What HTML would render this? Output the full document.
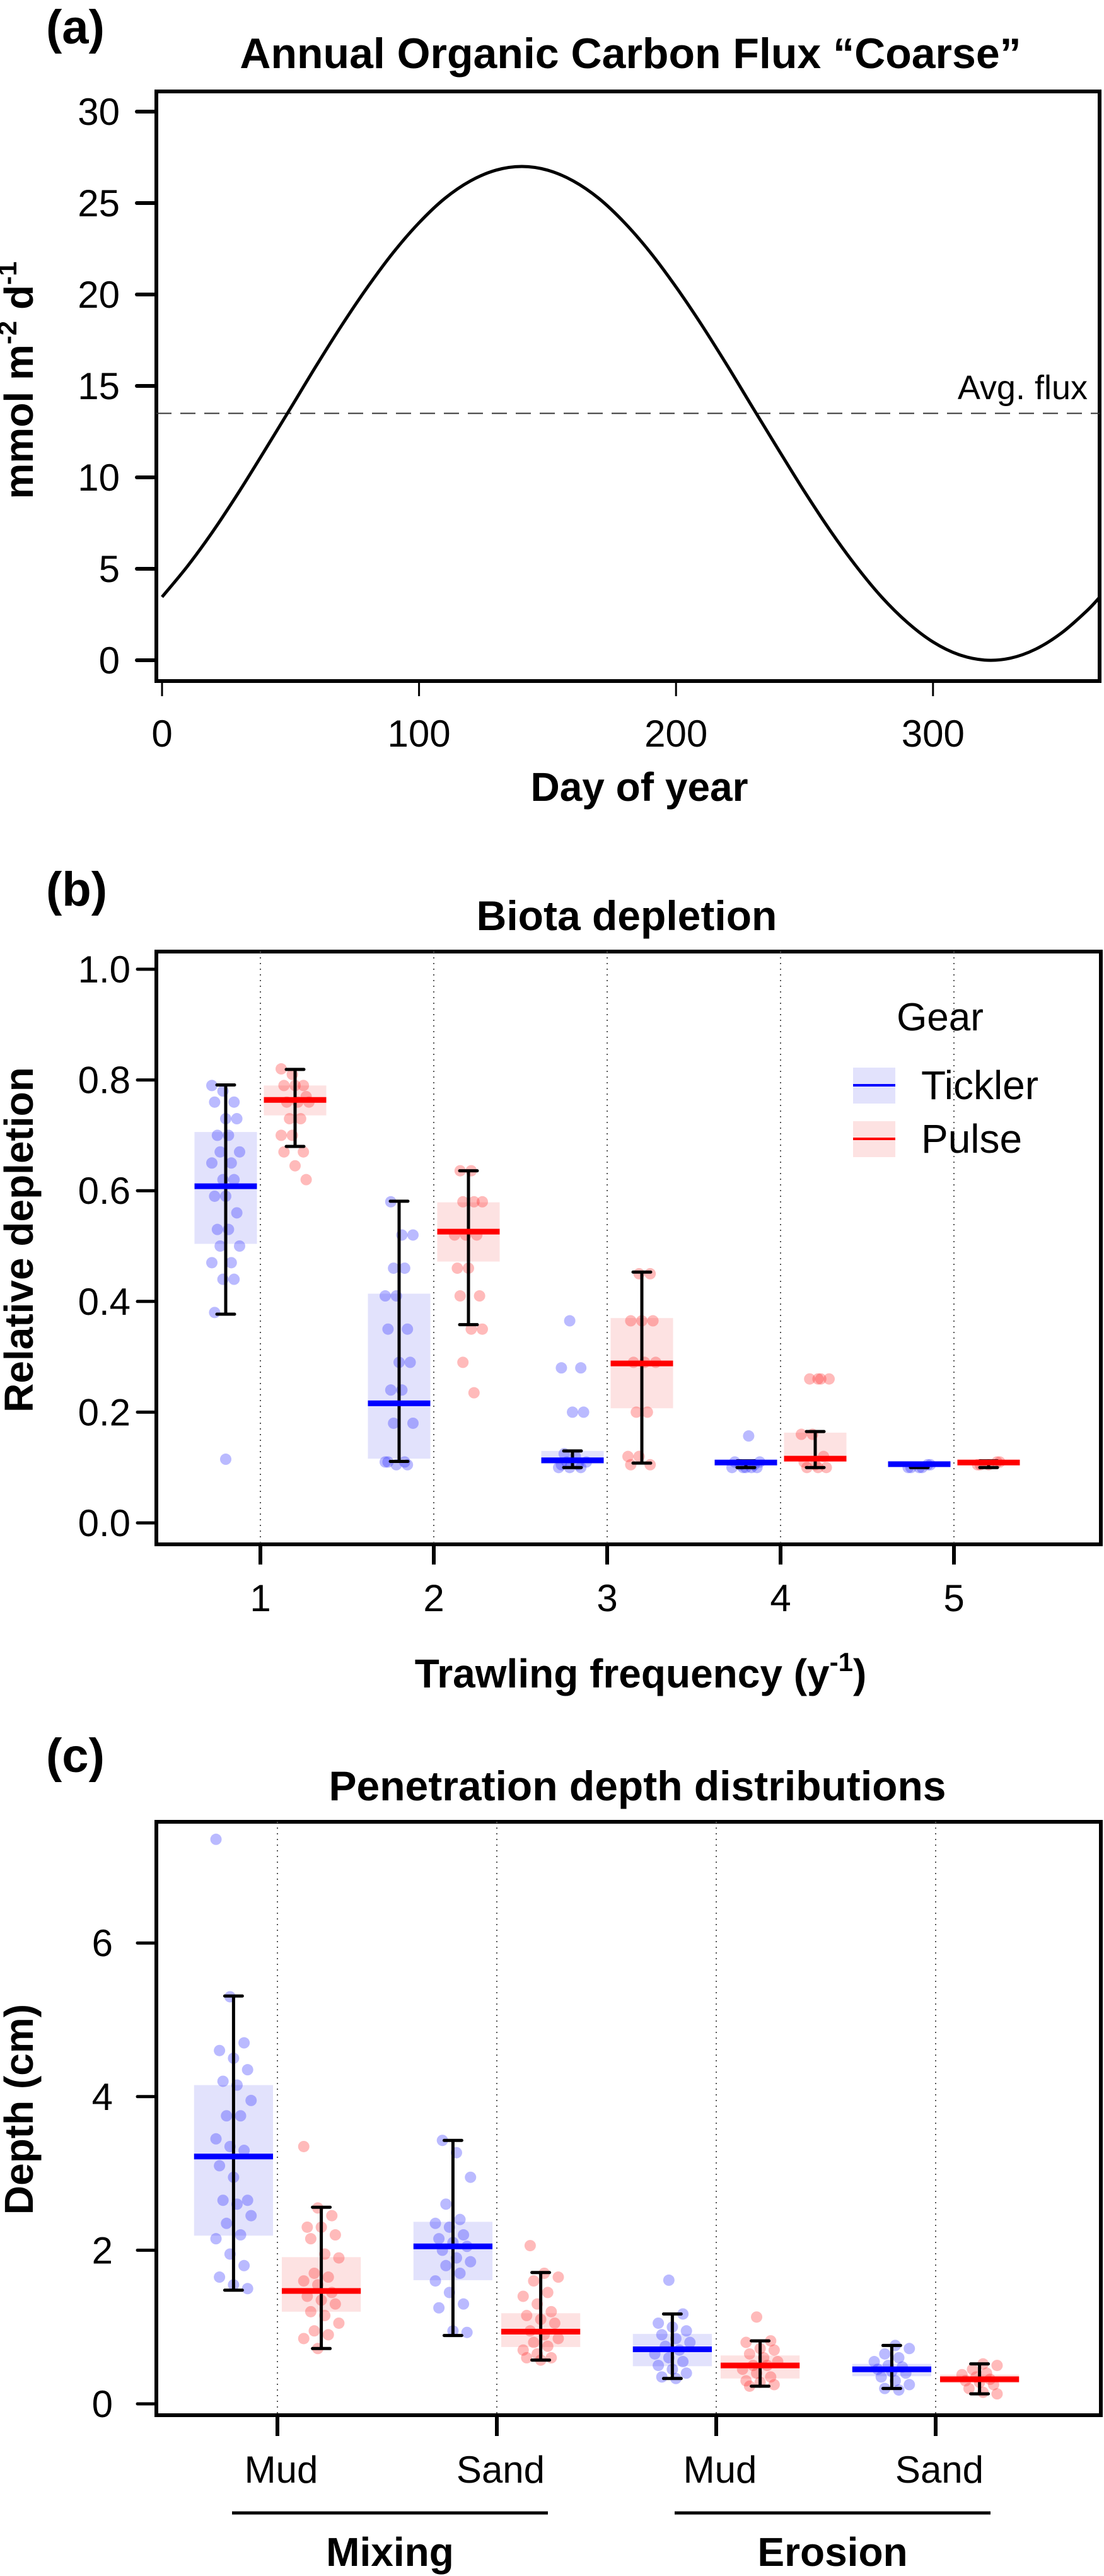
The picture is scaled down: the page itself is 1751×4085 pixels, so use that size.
<!DOCTYPE html>
<html><head><meta charset="utf-8"><style>
html,body{margin:0;padding:0;background:#fff;}
svg{display:block;font-family:"Liberation Sans",Arial,sans-serif;}
</style></head><body>
<svg id="fig" width="1751" height="4085" viewBox="0 0 1751 4085" xmlns="http://www.w3.org/2000/svg">
<g id="pa"></g>
<g id="pb"></g>
<g id="pc"></g>
</svg>
<script>
// ---------- Panel (a) data ----------
const fluxDays = [0,10,20,30,40,50,60,70,80,90,100,110,120,130,140,150,160,170,180,190,200,210,220,230,240,250,260,270,280,290,300,310,320,330,340,350,360,365];
const fluxValues = [3.46,5.16,7.09,9.22,11.48,13.78,16.10,18.33,20.41,22.30,23.92,25.25,26.21,26.80,27.0,26.80,26.21,25.25,23.92,22.30,20.41,18.33,16.10,13.78,11.48,9.22,7.09,5.16,3.46,2.07,1.00,0.31,0.01,0.11,0.61,1.49,2.72,3.47];
const avgFlux = [13.5];
const aYTicks = [0,5,10,15,20,25,30];
const aXTicks = [0,100,200,300];

// ---------- Panel (b) data ----------
const bCategories = ["1","2","3","4","5"];
const bTicklerStats = [[0.377,0.504,0.608,0.706,0.791],[0.111,0.116,0.216,0.414,0.581],[0.10,0.106,0.113,0.130,0.130],[0.10,0.105,0.109,0.112,0.112],[0.10,0.103,0.106,0.108,0.108]];
const bPulseStats = [[0.68,0.736,0.764,0.79,0.819],[0.358,0.472,0.526,0.579,0.636],[0.108,0.207,0.288,0.37,0.453],[0.10,0.114,0.116,0.163,0.165],[0.10,0.106,0.109,0.112,0.112]];
const bTicklerPoints = [
 [0.79,0.78,0.76,0.76,0.73,0.73,0.70,0.70,0.67,0.67,0.65,0.65,0.62,0.62,0.59,0.59,0.56,0.53,0.53,0.50,0.50,0.47,0.47,0.44,0.44,0.38,0.115],
 [0.58,0.52,0.52,0.46,0.46,0.41,0.41,0.35,0.35,0.29,0.29,0.24,0.24,0.18,0.18,0.11,0.11,0.105,0.105,0.11],
 [0.365,0.28,0.28,0.20,0.20,0.125,0.12,0.11,0.11,0.105,0.10,0.10,0.10,0.105],
 [0.157,0.11,0.105,0.10,0.10,0.10,0.105,0.11,0.10,0.10],
 [0.105,0.10,0.10,0.105,0.10,0.10]];
const bPulsePoints = [
 [0.82,0.81,0.79,0.79,0.79,0.77,0.76,0.76,0.76,0.73,0.73,0.70,0.70,0.67,0.67,0.645,0.62],
 [0.636,0.636,0.58,0.58,0.58,0.52,0.52,0.52,0.46,0.46,0.41,0.41,0.35,0.35,0.29,0.235],
 [0.45,0.45,0.365,0.365,0.365,0.29,0.29,0.29,0.20,0.20,0.12,0.12,0.105,0.105],
 [0.26,0.26,0.26,0.26,0.16,0.16,0.12,0.11,0.105,0.10,0.10,0.10],
 [0.11,0.105,0.105,0.11,0.105]];
const bYTicks = ["0.0","0.2","0.4","0.6","0.8","1.0"];

// ---------- Panel (c) data ----------
const cCategories = ["Mud","Sand","Mud","Sand"];
const cGroups = ["Mixing","Erosion"];
const cTicklerStats = [[1.48,2.19,3.22,4.15,5.31],[0.89,1.61,2.05,2.37,3.43],[0.33,0.49,0.71,0.91,1.17],[0.20,0.36,0.45,0.52,0.76]];
const cPulseStats = [[0.72,1.20,1.47,1.91,2.56],[0.57,0.74,0.94,1.18,1.71],[0.23,0.33,0.50,0.63,0.82],[0.13,0.27,0.32,0.38,0.52]];
const cTicklerPoints = [
 [7.35,5.3,4.7,4.6,4.5,4.35,4.2,4.15,3.95,3.75,3.75,3.45,3.35,3.3,3.1,2.95,2.65,2.65,2.6,2.45,2.35,2.2,2.15,1.95,1.8,1.65,1.55,1.5],
 [3.43,3.27,2.95,2.6,2.4,2.35,2.3,2.2,2.15,2.1,2.05,2.0,1.9,1.85,1.8,1.7,1.6,1.45,1.3,1.25,0.95,0.93],
 [1.61,1.17,1.05,1.0,0.95,0.9,0.85,0.8,0.75,0.7,0.65,0.6,0.55,0.5,0.45,0.4,0.35,0.33],
 [0.76,0.72,0.65,0.6,0.55,0.5,0.48,0.45,0.42,0.4,0.35,0.3,0.25,0.2,0.18]];
const cPulsePoints = [
 [3.35,2.55,2.45,2.3,2.3,2.2,2.15,1.95,1.9,1.7,1.65,1.6,1.55,1.45,1.4,1.35,1.3,1.2,1.15,1.05,0.95,0.9,0.85,0.72],
 [2.06,1.7,1.65,1.6,1.45,1.4,1.3,1.2,1.15,1.1,1.05,0.95,0.9,0.85,0.8,0.75,0.7,0.65,0.6,0.6,0.57],
 [1.13,0.82,0.8,0.72,0.7,0.65,0.6,0.55,0.5,0.5,0.45,0.4,0.35,0.3,0.28,0.25,0.23],
 [0.52,0.5,0.45,0.4,0.38,0.35,0.32,0.3,0.28,0.25,0.2,0.15,0.13]];
const cYTicks = [0,2,4,6];

const NS="http://www.w3.org/2000/svg";
function mk(parent,tag,attrs,text){const e=document.createElementNS(NS,tag);for(const k in attrs)e.setAttribute(k,attrs[k]);if(text!==undefined)e.textContent=text;parent.appendChild(e);return e;}

// ================= Panel A =================
(function(){
 const g=document.getElementById('pa');
 const L=248,R=1744,T=145,B=1080;
 const xs=d=>257+d*4.076, ys=v=>1047-v*29.0;
 let t=mk(g,'text',{x:73,y:69,'font-size':76,'font-weight':'bold'},'(a)');
 
 t=mk(g,'text',{x:1000,y:108,'font-size':68,'font-weight':'bold','text-anchor':'middle'},'Annual Organic Carbon Flux “Coarse”');
 
 const fr=mk(g,'rect',{x:L,y:T,width:R-L,height:B-T,fill:'none',stroke:'#000','stroke-width':6});
 
 aYTicks.forEach(v=>{
  const l=mk(g,'line',{x1:217,x2:L,y1:ys(v),y2:ys(v),stroke:'#000','stroke-width':6,'stroke-linecap':'round'});
  
  const tx=mk(g,'text',{x:190,y:ys(v)+21,'font-size':60,'text-anchor':'end'},String(v));
  
 });
 aXTicks.forEach(v=>{
  const l=mk(g,'line',{x1:xs(v),x2:xs(v),y1:B,y2:1104,stroke:'#000','stroke-width':3});
  
  const tx=mk(g,'text',{x:xs(v),y:1184,'font-size':60,'text-anchor':'middle'},String(v));
  
 });
 t=mk(g,'text',{x:1014,y:1270,'font-size':64,'font-weight':'bold','text-anchor':'middle'},'Day of year');
 
 t=mk(g,'text',{x:0,y:0,'font-size':64,'font-weight':'bold','text-anchor':'middle',transform:'translate(52,603) rotate(-90)'});
 
 t.innerHTML='mmol m<tspan dy="-26" font-size="42">-2</tspan><tspan dy="26"> d</tspan><tspan dy="-26" font-size="42">-1</tspan>';
 const dl=mk(g,'line',{x1:L,x2:R,y1:ys(avgFlux[0]),y2:ys(avgFlux[0]),stroke:'#333','stroke-width':2,'stroke-dasharray':'24,14'});
 
 t=mk(g,'text',{x:1725,y:633,'font-size':54,'text-anchor':'end'},'Avg. flux');
 
 // smooth curve via Catmull-Rom
 const P=fluxDays.map((d,i)=>[xs(d),ys(fluxValues[i])]);
 let dstr='M'+P[0][0]+','+P[0][1];
 for(let i=0;i<P.length-1;i++){const p0=P[Math.max(0,i-1)],p1=P[i],p2=P[i+1],p3=P[Math.min(P.length-1,i+2)];
  const c1=[p1[0]+(p2[0]-p0[0])/6,p1[1]+(p2[1]-p0[1])/6],c2=[p2[0]-(p3[0]-p1[0])/6,p2[1]-(p3[1]-p1[1])/6];
  dstr+=' C'+c1+' '+c2+' '+p2;}
 const cp=mk(g,'clipPath',{id:'clipA'});mk(cp,'rect',{x:L,y:T,width:R-L,height:B-T});
 const cv=mk(g,'path',{d:dstr,fill:'none',stroke:'#000','stroke-width':5,'clip-path':'url(#clipA)'});
 
})();

// ================= Box panels =================
function boxPanel(gid,cfg){
 const g=document.getElementById(gid);
 const {L,R,T,B,x0,dx,ys}=cfg;
 const fr=mk(g,'rect',{x:L,y:T,width:R-L,height:B-T,fill:'none',stroke:'#000','stroke-width':6});
 
 cfg.cats.forEach((c,i)=>{
  const x=x0+i*dx;
  const dl=mk(g,'line',{x1:x,x2:x,y1:T,y2:B,stroke:'#555','stroke-width':2,'stroke-dasharray':'2,7'});
  
  const tk=mk(g,'line',{x1:x,x2:x,y1:B,y2:cfg.tickEnd,stroke:'#000','stroke-width':6});
  
  const tl=mk(g,'text',{x:x+cfg.labelDx,y:cfg.labelY,'font-size':60,'text-anchor':'middle'},c);
  
 });
 cfg.yTicks.forEach(v=>{
  const y=ys(parseFloat(v));
  const l=mk(g,'line',{x1:218,x2:L,y1:y,y2:y,stroke:'#000','stroke-width':5,'stroke-linecap':'round'});
  
  const tx=mk(g,'text',{x:cfg.yLabelX,y:y+21,'font-size':60,'text-anchor':'end'},String(v));
  
 });
 const series=[{stats:cfg.tStats,pts:cfg.tPts,off:-0.2,fill:'#e2e2fc',line:'#0000ff',pt:'rgba(40,40,255,0.32)',name:'tickler'},
               {stats:cfg.pStats,pts:cfg.pPts,off:0.2,fill:'#fde2e2',line:'#ff0000',pt:'rgba(255,40,40,0.32)',name:'pulse'}];
 const bw=0.36*dx;
 series.forEach(s=>{
  s.stats.forEach((st,i)=>{
   const cx=x0+(i+s.off)*dx;
   const bx=mk(g,'rect',{x:cx-bw/2,y:ys(st[3]),width:bw,height:Math.max(1,ys(st[1])-ys(st[3])),fill:s.fill});
   
   s.pts[i].forEach((v,j)=>{
    const jit=(((j*37+i*13)%11)-5)/5*0.08*dx;
    const c=mk(g,'circle',{cx:cx+jit,cy:ys(v),r:9,fill:s.pt});
    
   });
   const wl=mk(g,'line',{x1:cx,x2:cx,y1:ys(st[0]),y2:ys(st[4]),stroke:'#000','stroke-width':5});
   
   [st[0],st[4]].forEach(v=>{
    const cap=mk(g,'line',{x1:cx-14,x2:cx+14,y1:ys(v),y2:ys(v),stroke:'#000','stroke-width':5,'stroke-linecap':'round'});
    
   });
   const md=mk(g,'line',{x1:cx-bw/2,x2:cx+bw/2,y1:ys(st[2]),y2:ys(st[2]),stroke:s.line,'stroke-width':9});
   
  });
 });
 return g;
}

// Panel B
(function(){
 const ys=v=>2415-v*878;
 const g=boxPanel('pb',{L:248,R:1746,T:1509,B:2449,x0:413,dx:275,ys,cats:bCategories,tickEnd:2481,labelY:2555,labelDx:0,
  yTicks:bYTicks,yLabelX:207,tStats:bTicklerStats,pStats:bPulseStats,tPts:bTicklerPoints,pPts:bPulsePoints});
 let t=mk(g,'text',{x:73,y:1436,'font-size':76,'font-weight':'bold'},'(b)');
 
 t=mk(g,'text',{x:994,y:1475,'font-size':66,'font-weight':'bold','text-anchor':'middle'},'Biota depletion');
 
 t=mk(g,'text',{x:1016,y:2676,'font-size':64,'font-weight':'bold','text-anchor':'middle'});
 
 t.innerHTML='Trawling frequency (y<tspan dy="-26" font-size="42">-1</tspan><tspan dy="26">)</tspan>';
 t=mk(g,'text',{x:0,y:0,'font-size':64,'font-weight':'bold','text-anchor':'middle',transform:'translate(52,1966) rotate(-90)'},'Relative depletion');
 
 // legend
 t=mk(g,'text',{x:1491,y:1634,'font-size':62,'text-anchor':'middle'},'Gear');
 
 [['Tickler','#e2e2fc','#0000ff',1693],['Pulse','#fde2e2','#ff0000',1778]].forEach(e=>{
  const r=mk(g,'rect',{x:1353,y:e[3],width:67,height:57,fill:e[1]});
  
  const l=mk(g,'line',{x1:1353,x2:1420,y1:e[3]+28,y2:e[3]+28,stroke:e[2],'stroke-width':4});
  
  const tx=mk(g,'text',{x:1461,y:e[3]+50,'font-size':64},e[0]);
  
 });
})();

// Panel C
(function(){
 const ys=v=>3812-v*121.8;
 const g=boxPanel('pc',{L:248,R:1746,T:2889,B:3830,x0:440,dx:348,ys,cats:cCategories,tickEnd:3863,labelY:3937,labelDx:6,
  yTicks:cYTicks,yLabelX:179,tStats:cTicklerStats,pStats:cPulseStats,tPts:cTicklerPoints,pPts:cPulsePoints});
 let t=mk(g,'text',{x:73,y:2810,'font-size':76,'font-weight':'bold'},'(c)');
 
 t=mk(g,'text',{x:1011,y:2855,'font-size':66,'font-weight':'bold','text-anchor':'middle'},'Penetration depth distributions');
 
 t=mk(g,'text',{x:0,y:0,'font-size':64,'font-weight':'bold','text-anchor':'middle',transform:'translate(52,3345) rotate(-90)'},'Depth (cm)');
 
 cGroups.forEach((name,i)=>{
  const x1=368+i*702,x2=869+i*702;
  const l=mk(g,'line',{x1:x1,x2:x2,y1:3985,y2:3985,stroke:'#000','stroke-width':5});
  
  const tx=mk(g,'text',{x:(x1+x2)/2,y:4069,'font-size':64,'font-weight':'bold','text-anchor':'middle'},name);
  
 });
})();
</script>
</body></html>
